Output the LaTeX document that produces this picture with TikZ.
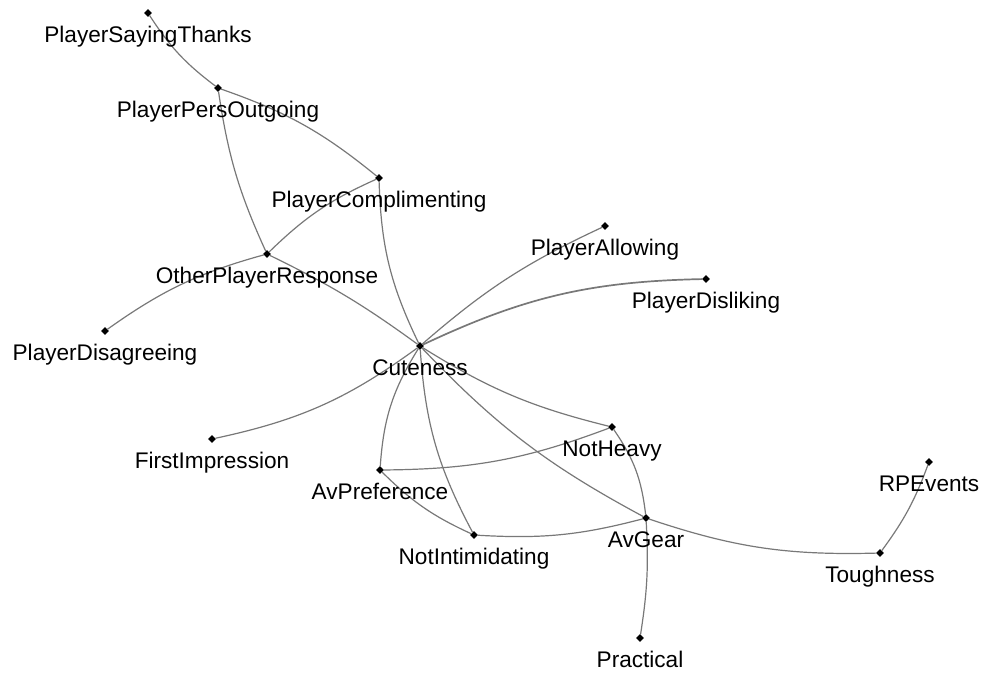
\documentclass[tikz,border=0pt]{standalone}
\usepackage{fontspec}
\setmainfont{Liberation Sans}
\usetikzlibrary{shapes.geometric}
\definecolor{edgegray}{RGB}{120,120,120}
\begin{document}
\begin{tikzpicture}[x=1pt,y=-1pt,
  dotm/.style={diamond,fill=black,draw=none,inner sep=0pt,minimum size=8pt},
  lbl/.style={anchor=base,inner sep=0pt,font=\fontsize{22.6}{27}\selectfont,text=black},
  edge/.style={draw=edgegray,line width=1.2pt}]
\useasboundingbox (0,0) rectangle (982,673);
% dots
\node[dotm] (pst) at (148,13) {};
\node[dotm] (ppo) at (218,88) {};
\node[dotm] (pc)  at (379,178) {};
\node[dotm] (opr) at (267,254) {};
\node[dotm] (pdg) at (105,331) {};
\node[dotm] (cut) at (420,346) {};
\node[dotm] (pal) at (605,226) {};
\node[dotm] (pdl) at (706,279) {};
\node[dotm] (fi)  at (212,439) {};
\node[dotm] (avp) at (380,470) {};
\node[dotm] (nh)  at (612,427) {};
\node[dotm] (ni)  at (474,535) {};
\node[dotm] (avg) at (646,518) {};
\node[dotm] (tgh) at (880,553) {};
\node[dotm] (rpe) at (929,462) {};
\node[dotm] (prc) at (640,638) {};
% edges
\draw[edge] (pst) to[bend right=10] (ppo);
\draw[edge] (ppo) to[bend left=10] (pc);
\draw[edge] (ppo) to[bend right=8] (opr);
\draw[edge] (pc) to[bend right=10] (opr);
\draw[edge] (pc) to[bend right=12] (cut);
\draw[edge] (opr) to[bend right=10] (pdg);
\draw[edge] (opr) to[bend left=5] (cut);
\draw[edge] (cut) to[bend left=8] (pal);
\draw[edge,line width=1.7pt] (cut) to[bend left=12] (pdl);
\draw[edge] (cut) to[bend left=12] (fi);
\draw[edge] (cut) to[bend right=14] (avp);
\draw[edge] (cut) to[bend right=12] (ni);
\draw[edge] (cut) to[bend right=9] (nh);
\draw[edge] (cut) to[bend right=9] (avg);
\draw[edge] (avp) to[bend right=10] (nh);
\draw[edge] (avp) to[bend right=10] (ni);
\draw[edge] (ni) to[bend right=9] (avg);
\draw[edge] (nh) to[bend left=14] (avg);
\draw[edge] (avg) to[bend right=10] (tgh);
\draw[edge] (tgh) to[bend right=8] (rpe);
\draw[edge] (avg) to[bend left=6] (prc);
% labels
\node[lbl] (pst-l) at (148,42) {PlayerSayingThanks};
\node[lbl] (ppo-l) at (218,117) {PlayerPersOutgoing};
\node[lbl] (pc-l)  at (379,207) {PlayerComplimenting};
\node[lbl] (opr-l) at (267,283) {OtherPlayerResponse};
\node[lbl] (pdg-l) at (105,360) {PlayerDisagreeing};
\node[lbl] (cut-l) at (420,375) {Cuteness};
\node[lbl] (pal-l) at (605,255) {PlayerAllowing};
\node[lbl] (pdl-l) at (706,308) {PlayerDisliking};
\node[lbl] (fi-l)  at (212,468) {FirstImpression};
\node[lbl] (avp-l) at (380,499) {AvPreference};
\node[lbl] (nh-l)  at (612,456) {NotHeavy};
\node[lbl] (ni-l)  at (474,564) {NotIntimidating};
\node[lbl] (avg-l) at (646,547) {AvGear};
\node[lbl] (tgh-l) at (880,582) {Toughness};
\node[lbl] (rpe-l) at (929,491) {RPEvents};
\node[lbl] (prc-l) at (640,667) {Practical};
\end{tikzpicture}
\end{document}
